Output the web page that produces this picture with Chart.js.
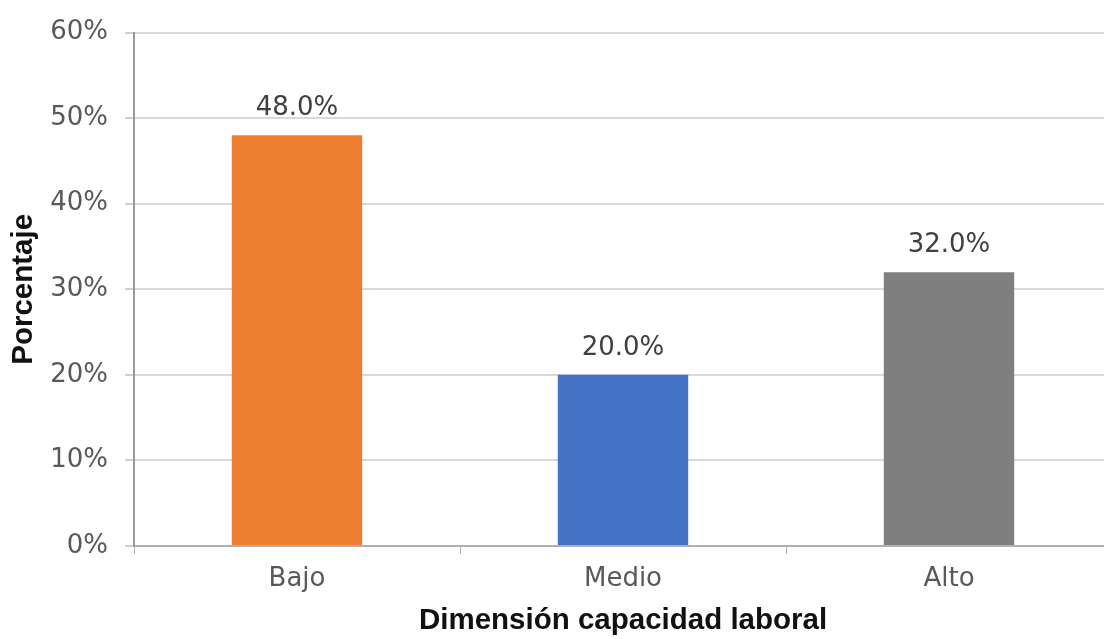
<!DOCTYPE html>
<html>
<head>
<meta charset="utf-8">
<script src="https://cdn.jsdelivr.net/npm/chart.js@4.4.0/dist/chart.umd.min.js"></script>
<style>
html,body{margin:0;padding:0;background:#fff;overflow:hidden;}
#wrap{width:1104px;height:639px;overflow:hidden;}
</style>
</head>
<body>
<div id="wrap"><canvas id="c" width="1112" height="639"></canvas></div>
<script>
const categories = ['Bajo', 'Medio', 'Alto'];
const values = [48.0, 20.0, 32.0];
const barColors = ['#ED7D31', '#4472C4', '#7F7F7F'];
const yTicks = [0, 10, 20, 30, 40, 50, 60];
const xTitle = 'Dimensión capacidad laboral';
const yTitle = 'Porcentaje';

const FONT = "'DejaVu Sans', 'Liberation Sans', Arial, sans-serif";
const TFONT = "'Liberation Sans', Arial, sans-serif";

const dataLabels = {
  id: 'dataLabels',
  afterDatasetsDraw(chart) {
    const ctx = chart.ctx;
    const meta = chart.getDatasetMeta(0);
    ctx.save();
    ctx.font = '26px ' + FONT;
    ctx.fillStyle = '#404040';
    ctx.textAlign = 'center';
    ctx.textBaseline = 'alphabetic';
    meta.data.forEach((bar, i) => {
      ctx.fillText(values[i].toFixed(1) + '%', bar.x, bar.y - 20);
    });
    ctx.restore();
  }
};

new Chart(document.getElementById('c'), {
  type: 'bar',
  data: {
    labels: categories,
    datasets: [{
      data: values,
      backgroundColor: barColors,
      borderWidth: 0,
      barPercentage: 0.4,
      categoryPercentage: 1.0
    }]
  },
  options: {
    responsive: false,
    animation: false,
    devicePixelRatio: 1,
    layout: { padding: { top: 32, right: 0, bottom: 0, left: 0 } },
    plugins: {
      legend: { display: false },
      tooltip: { enabled: false }
    },
    scales: {
      x: {
        offset: true,
        grid: {
          drawOnChartArea: false,
          display: true,
          tickLength: 8,
          tickColor: '#b0b0b0',
          lineWidth: 1
        },
        border: { color: '#b0b0b0', width: 2 },
        ticks: {
          color: '#595959',
          font: { family: FONT, size: 26 },
          padding: 10
        },
        title: {
          display: true,
          text: xTitle,
          color: '#111',
          font: { family: TFONT, size: 29.5, weight: 'bold' },
          padding: { top: 2, bottom: 0 }
        },
        afterFit(scale) { scale.height = 93; }
      },
      y: {
        min: 0,
        max: 60,
        afterBuildTicks(scale) { scale.ticks = yTicks.map(v => ({ value: v })); },
        grid: {
          color: '#d9d9d9',
          lineWidth: 2,
          tickLength: 9,
          tickColor: '#d0d0d0'
        },
        border: { color: '#999999', width: 2 },
        ticks: {
          color: '#595959',
          font: { family: FONT, size: 26 },
          padding: 17,
          callback: v => v + '%'
        },
        title: {
          display: true,
          text: yTitle,
          color: '#111',
          font: { family: TFONT, size: 29.5, weight: 'bold' },
          padding: { top: 6, bottom: 0 }
        },
        afterFit(scale) { scale.width = 134; }
      }
    }
  },
  plugins: [dataLabels]
});
</script>
</body>
</html>
